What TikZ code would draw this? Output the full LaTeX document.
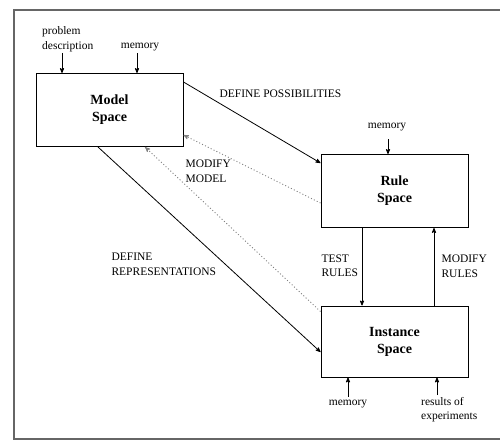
\documentclass[tikz,border=0pt]{standalone}
\usepackage{fontspec}
\setmainfont{Liberation Serif}
\usepackage{tikz}
\usetikzlibrary{positioning, arrows}
\tikzset{
>=stealth', % narrow filled arrow heads
space/.style={draw, line width=1pt, minimum width=147pt, minimum height=73pt, align=center,
  font=\fontsize{14}{17}\selectfont\bfseries}, % the three boxes
lbl/.style={align=left, font=\fontsize{11.5}{14.5}\selectfont}, % arrow labels
feed/.style={->, line width=0.8pt}, % solid connectors
back/.style={->, line width=0.9pt, gray, dash pattern=on 1pt off 2.2pt}, % dotted feedback
}

\begin{document}
\begin{tikzpicture}[x=1pt, y=-1pt]
  \useasboundingbox (0,0) rectangle (500,443);
  % frame round the figure
  \draw[gray!80!black, line width=1.1pt] (500,10) -- (14,10) -- (14,439) -- (500,439);

  \node[space] (model) at (109.5,110) {Model\\Space};
  \node[space] (rule) at (394.5,191) {Rule\\Space};
  \node[space, minimum height=71pt] (inst) at (394.5,341.5) {Instance\\Space};

  % inputs
  \node[lbl, anchor=south west, inner sep=0pt] (prob) at (42,52) {problem\\description};
  \node[lbl, inner sep=0pt] (mem1) at (140,47) {memory};
  \node[lbl, inner sep=0pt] (mem2) at (387,127) {memory};
  \node[lbl, inner sep=0pt] (mem3) at (348,404) {memory};
  \node[lbl, anchor=north west, inner sep=0pt] (res) at (421,397) {results of\\experiments};

  \coordinate (probin) at ([xshift=-47.5pt]model.north);
  \coordinate (mem1in) at ([xshift=27.5pt]model.north);
  \coordinate (mem2in) at ([xshift=-6.5pt]rule.north);
  \coordinate (mem3in) at ([xshift=-46.5pt]inst.south);
  \coordinate (resin) at ([xshift=42.5pt]inst.south);

  \draw[feed] (probin |- prob.south) ++(0,1) -- (probin);
  \draw[feed] (mem1in |- mem1.south) ++(0,2) -- (mem1in);
  \draw[feed] (mem2in |- mem2.south) ++(0,8) -- (mem2in);
  \draw[feed] (mem3in |- mem3.north) ++(0,-3) -- (mem3in);
  \draw[feed] (resin |- res.north) ++(0,-2) -- (resin);

  % connectors between the spaces
  \draw[feed] ([yshift=-9pt]model.north east) -- ([yshift=-9pt]rule.north west);
  \draw[feed] ([xshift=-11.5pt]model.south) -- ([yshift=-10.5pt]inst.west);
  \draw[feed] ([xshift=-32.5pt]rule.south) -- ([xshift=-32.5pt]inst.north);
  \draw[feed] ([xshift=39.5pt]inst.north) -- ([xshift=39.5pt]rule.south);
  \draw[back] ([yshift=-12pt]rule.west) -- ([yshift=12pt]model.south east);
  \draw[back] ([yshift=-6pt]inst.north west) -- ([xshift=35.5pt]model.south);

  \node[lbl, anchor=west] at (216,94) {DEFINE POSSIBILITIES};
  \node[lbl, anchor=west] at (182,171.5) {MODIFY\\MODEL};
  \node[lbl, anchor=west] at (108,264.5) {DEFINE\\REPRESENTATIONS};
  \node[lbl, anchor=west] at (318,265.5) {TEST\\RULES};
  \node[lbl, anchor=west] at (438,266) {MODIFY\\RULES};
\end{tikzpicture}
\end{document}
